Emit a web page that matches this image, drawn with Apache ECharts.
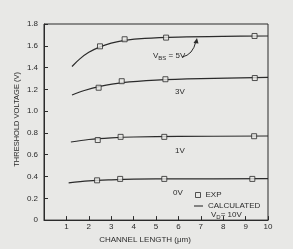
<!DOCTYPE html>
<html>
<head>
<meta charset="utf-8">
<script src="https://cdn.jsdelivr.net/npm/echarts@6/dist/echarts.min.js"></script>
<style>
  html, body { margin: 0; padding: 0; background: #e8e8e6; }
  #chart { width: 293px; height: 249px; }
</style>
</head>
<body>
<div id="chart"></div>
<script>
// measured points (channel length um, threshold voltage V)
const exp5V = [[2.5, 1.595], [3.6, 1.66], [5.45, 1.675], [9.4, 1.69]]
const exp3V = [[2.44, 1.215], [3.47, 1.275], [5.42, 1.293], [9.41, 1.304]]
const exp1V = [[2.4, 0.735], [3.42, 0.764], [5.37, 0.764], [9.38, 0.77]]
const exp0V = [[2.37, 0.365], [3.4, 0.378], [5.37, 0.378], [9.3, 0.378]]

// calculated curves
const calc5V = [[1.25, 1.41], [1.6, 1.48], [2.0, 1.54], [2.5, 1.59], [3.0, 1.625], [3.6, 1.65], [4.5, 1.668], [6, 1.68], [8, 1.687], [10, 1.69]]
const calc3V = [[1.25, 1.148], [1.8, 1.19], [2.5, 1.228], [3.5, 1.262], [5, 1.285], [7, 1.299], [10, 1.31]]
const calc1V = [[1.2, 0.717], [2, 0.74], [3, 0.755], [4, 0.763], [6, 0.768], [10, 0.772]]
const calc0V = [[1.1, 0.342], [2, 0.36], [3, 0.37], [4, 0.376], [6, 0.378], [10, 0.38]]

const xMin = 0, xMax = 10, xStep = 1
const yMin = 0, yMax = 1.8, yStep = 0.2

const ink = '#2b2b2b'
const paper = '#e8e8e6'
const font = 'Liberation Sans'

const chart = echarts.init(document.getElementById('chart'))

const calcSeries = (data) => ({
    name: 'CALCULATED',
    type: 'line',
    data: data,
    smooth: 0.35,
    symbol: 'none',
    itemStyle: { color: ink },
    lineStyle: { color: ink, width: 1.2 },
    z: 2
})
const expSeries = (data) => ({
    name: 'EXP',
    type: 'scatter',
    data: data,
    symbol: 'rect',
    symbolSize: 5,
    itemStyle: { color: paper, borderColor: ink, borderWidth: 1 },
    z: 3
})
const legendText = { fontSize: 8, color: ink, fontFamily: font }

chart.setOption({
    backgroundColor: paper,
    animation: false,
    textStyle: { fontFamily: font, color: ink },
    grid: {
        left: 44, right: 25, top: 24, bottom: 22,
        show: true, borderColor: ink, borderWidth: 1
    },
    legend: [
        {
            left: 190, top: 186,
            itemWidth: 5, itemHeight: 5, itemGap: 0,
            textStyle: legendText,
            data: [{ name: 'EXP', icon: 'rect', itemStyle: { color: paper, borderColor: ink, borderWidth: 1 } }]
        },
        {
            left: 189, top: 197,
            itemWidth: 9, itemHeight: 5, itemGap: 0,
            textStyle: legendText,
            data: [{ name: 'CALCULATED', icon: 'path://M0,0L10,0L10,1.2L0,1.2Z', itemStyle: { color: ink } }]
        }
    ],
    xAxis: {
        type: 'value',
        min: xMin, max: xMax, interval: xStep,
        axisLine: { lineStyle: { color: ink } },
        axisTick: { inside: true, length: 4, lineStyle: { color: ink } },
        splitLine: { show: false },
        axisLabel: {
            color: ink, fontSize: 8, margin: 3,
            formatter: v => v === 0 ? '' : String(v)
        },
        name: 'CHANNEL LENGTH (\u03bcm)',
        nameLocation: 'middle',
        nameGap: 12,
        nameTextStyle: { fontSize: 8, color: ink, padding: [0, 22, 0, 0] }
    },
    yAxis: {
        type: 'value',
        min: yMin, max: yMax, interval: yStep,
        axisLine: { show: true, lineStyle: { color: ink } },
        axisTick: { show: true, inside: true, length: 4, lineStyle: { color: ink } },
        splitLine: { show: false },
        axisLabel: {
            color: ink, fontSize: 8, margin: 6,
            formatter: v => v === 0 ? '0' : v.toFixed(1)
        }
    },
    graphic: [
        {
            type: 'text', left: 13, top: 72, rotation: Math.PI / 2,
            style: { text: 'THRESHOLD VOLTAGE (V)', fontSize: 7.5, fill: ink, fontFamily: font }
        },
        {
            type: 'text', left: 153, top: 52,
            style: {
                text: '{v|V}{s|BS}{v| = 5V}',
                fill: ink, fontFamily: font,
                rich: { v: { fontSize: 8, fontFamily: font }, s: { fontSize: 6, fontFamily: font, padding: [4, 0, 0, 0] } }
            }
        },
        {
            type: 'bezierCurve',
            shape: { x1: 182, y1: 57, x2: 196, y2: 41, cpx1: 193, cpy1: 55 },
            style: { stroke: ink, lineWidth: 1, fill: null }
        },
        {
            type: 'polygon',
            shape: { points: [[197, 38], [193.5, 43], [198.5, 43.5]] },
            style: { fill: ink }
        },
        { type: 'text', left: 175, top: 88, style: { text: '3V', fontSize: 8, fill: ink, fontFamily: font } },
        { type: 'text', left: 175, top: 147, style: { text: '1V', fontSize: 8, fill: ink, fontFamily: font } },
        { type: 'text', left: 173, top: 189, style: { text: '0V', fontSize: 8, fill: ink, fontFamily: font } },
        {
            type: 'text', left: 211, top: 211,
            style: {
                text: '{v|V}{s|D}{v|= 10V}',
                fill: ink, fontFamily: font,
                rich: { v: { fontSize: 8, fontFamily: font }, s: { fontSize: 6, fontFamily: font, padding: [4, 0, 0, 0] } }
            }
        }
    ],
    series: [
        calcSeries(calc5V), calcSeries(calc3V), calcSeries(calc1V), calcSeries(calc0V),
        expSeries(exp5V), expSeries(exp3V), expSeries(exp1V), expSeries(exp0V)
    ]
})
</script>
</body>
</html>
